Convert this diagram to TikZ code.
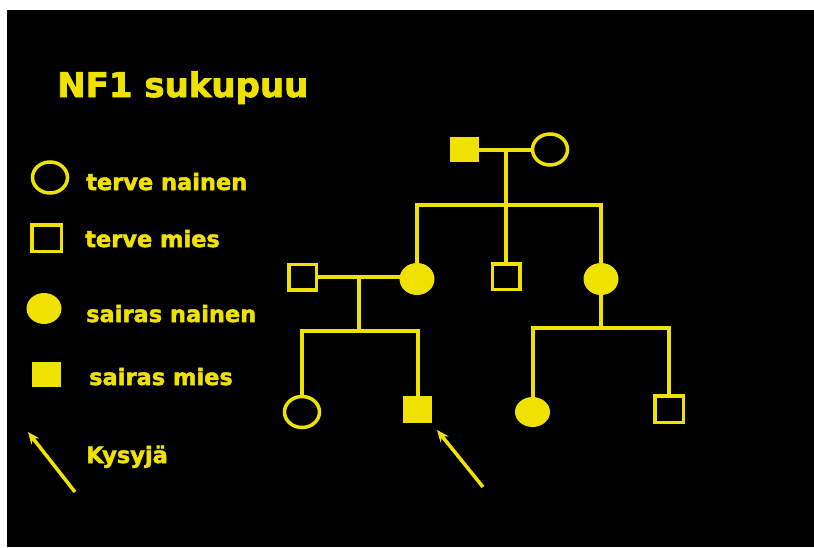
\documentclass[tikz,border=0pt]{standalone}
\usepackage{fontspec}
\setmainfont{DejaVu Sans}
\newfontfamily\heavyfont[FakeBold=2.2]{DejaVu Sans Bold}
\usetikzlibrary{shapes.geometric,arrows.meta}
\definecolor{nfyellow}{RGB}{240,226,0}
\tikzset{
  femopen/.style={ellipse, draw=nfyellow, line width=3.5pt, minimum width=35pt, minimum height=31pt, inner sep=0pt},
  femill/.style={ellipse, fill=nfyellow, minimum width=35pt, minimum height=31pt, inner sep=0pt},
  maleopen/.style={rectangle, draw=nfyellow, line width=3.5pt, minimum width=27.5pt, minimum height=25.5pt, inner sep=0pt},
  maleill/.style={rectangle, fill=nfyellow, minimum width=29pt, minimum height=26pt, inner sep=0pt},
  kin/.style={draw=nfyellow, line width=4pt},
  proband/.style={draw=nfyellow, line width=3.5pt, -{Stealth[length=12pt, width=10pt]}},
  label/.style={anchor=base west, inner sep=0pt, text=nfyellow, font=\heavyfont\fontsize{22.5}{27}\selectfont},
  heading/.style={anchor=base west, inner sep=0pt, text=nfyellow, font=\heavyfont\fontsize{34}{40}\selectfont}
}
\begin{document}
\begin{tikzpicture}[x=1pt, y=-1pt]
  % page and black panel
  \fill[white] (0,0) rectangle (814,547);
  \fill[black] (7,10) rectangle (814,547);
  \useasboundingbox (0,0) rectangle (814,547);

  % title
  \node[heading] (title) at (57,97) {NF1 sukupuu};

  % legend
  \node[femopen] (lgA) at (50,177.5) {};
  \node[label] (lgAt) at (86,190) {terve nainen};
  \node[maleopen, minimum width=29.5pt, minimum height=26.5pt] (lgB) at (46.5,238) {};
  \node[label] (lgBt) at (85,247) {terve mies};
  \node[femill] (lgC) at (44,308.5) {};
  \node[label] (lgCt) at (86,322) {sairas nainen};
  \node[maleill, minimum height=25pt] (lgD) at (46.5,374.5) {};
  \node[label] (lgDt) at (89,385) {sairas mies};
  \coordinate (lgEs) at (75,492);
  \coordinate (lgEe) at (28,432);
  \draw[proband] (lgEs) -- (lgEe);
  \node[label] (lgEt) at (86,463) {Kysyjä};

  % generation I
  \node[maleill, minimum height=25pt] (gI1) at (464.5,149.5) {};
  \node[femopen] (gI2) at (550,149.5) {};
  \coordinate (mI) at (506,149.5);
  \coordinate (sI) at (506,205);

  % generation II
  \node[femill, minimum height=32pt] (gII2) at (417,279) {};
  \node[maleopen] (gII3) at (506,276.5) {};
  \node[femill, minimum height=32pt] (gII4) at (601,279) {};
  \node[maleopen] (gII1) at (302.5,277) {};
  \coordinate (mII) at (359,277);
  \coordinate (sII) at (359,331);
  \coordinate (sIIb) at (601,328);

  % generation III
  \node[femopen] (gIII1) at (302,412) {};
  \node[maleill, minimum height=27pt] (gIII2) at (417.5,409.5) {};
  \node[femill, minimum height=30pt] (gIII3) at (532.5,412) {};
  \node[maleopen, minimum width=28.5pt, minimum height=26.5pt] (gIII4) at (669,409) {};

  % kinship lines
  \draw[kin] (gI1.east) -- (gI2.west);
  \draw[kin] (mI) -- (sI);
  \draw[kin] (gII2.north) -- (gII2.north |- sI) -- (gII4.north |- sI) -- (gII4.north);
  \draw[kin] (sI) -- (gII3.north);
  \draw[kin] (gII1.east) -- (gII2.center |- gII1.east);
  \draw[kin] (mII) -- (sII);
  \draw[kin] (gIII1.north) -- (gIII1.north |- sII) -- (gIII2.north |- sII) -- (gIII2.north);
  \draw[kin] (gII4.south) -- (sIIb);
  \draw[kin] (gIII3.north) -- (gIII3.north |- sIIb) -- (gIII4.north |- sIIb) -- (gIII4.north);

  % proband marker
  \coordinate (pbS) at (483,487);
  \coordinate (pbE) at (437,430);
  \draw[proband] (pbS) -- (pbE);
\end{tikzpicture}
\end{document}
